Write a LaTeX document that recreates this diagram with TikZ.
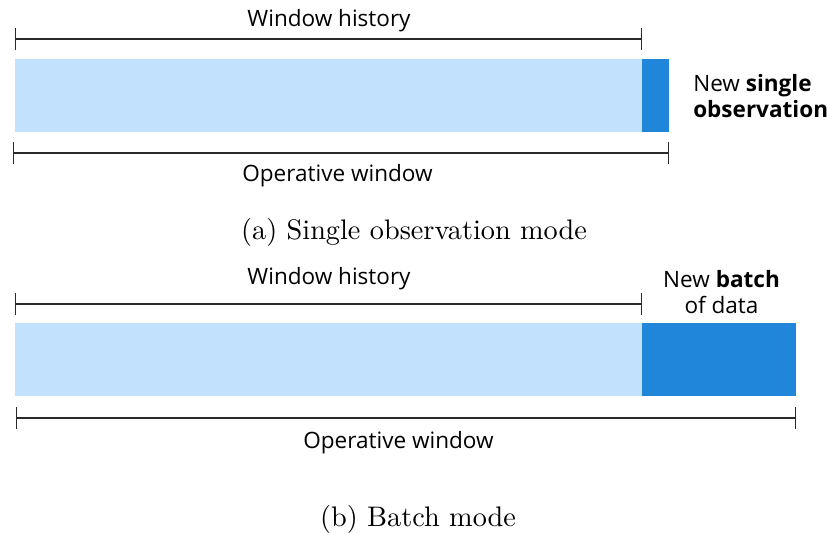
\documentclass[tikz,border=0pt]{standalone}
\usepackage{fontspec}
\newfontfamily\osans{Open Sans}
\newfontfamily\capfont{lmroman10-regular.otf}
\usetikzlibrary{arrows.meta}
\definecolor{lightbar}{HTML}{C2E1FC}
\definecolor{darkbar}{HTML}{1F86DA}
\definecolor{lineclr}{HTML}{2A2A2A}
\begin{document}
\begin{tikzpicture}[x=0.75pt,y=-0.75pt,
  barL/.style={fill=lightbar, draw=none, inner sep=0pt, outer sep=0pt, anchor=north west},
  barD/.style={fill=darkbar, draw=none, inner sep=0pt, outer sep=0pt, anchor=north west},
  bracket/.style={draw=lineclr, line width=0.8pt, {Bar[width=16.5pt,line width=0.8pt]}-{Bar[width=16.5pt,line width=0.8pt]}},
  lbl/.style={inner sep=0pt, anchor=base, font=\osans\fontsize{16.9}{19.5}\selectfont},
  lblw/.style={inner sep=0pt, anchor=base west, font=\osans\fontsize{16.9}{19.5}\selectfont},
  capt/.style={inner sep=0pt, anchor=base, font=\capfont\fontsize{21.2}{25}\selectfont}
]
\useasboundingbox (0,0) rectangle (827,533);

% ---------- (a) single observation mode ----------
\coordinate (whA1) at (15.3,39);
\coordinate (whA2) at (642,39);
\draw[bracket] (whA1) -- (whA2);
\node[lbl] (whAt) at (329,26) {Window history};

\node[barL, minimum width=470pt, minimum height=54.3pt] (histA) at (15.3,59.3) {};
\node[barD, minimum width=20.25pt, minimum height=54.3pt] (newA) at (642,59.3) {};

\coordinate (owA1) at (12.7,153);
\coordinate (owA2) at (669,153);
\draw[bracket] (owA1) -- (owA2);
\node[lbl] (owAt) at (337.5,181) {Operative window};

\node[lblw] (newAt1) at (693,91) {New \textbf{single}};
\node[lblw] (newAt2) at (693,117) {\textbf{observation}};

\node[capt] (capA) at (414,239) {(a) Single observation mode};

% ---------- (b) batch mode ----------
\coordinate (whB1) at (15.3,304);
\coordinate (whB2) at (642,304);
\draw[bracket] (whB1) -- (whB2);
\node[lbl] (whBt) at (329,284) {Window history};

\node[barL, minimum width=470pt, minimum height=54.5pt] (histB) at (15.3,323.3) {};
\node[barD, minimum width=115.5pt, minimum height=54.5pt] (newB) at (642,323.3) {};

\coordinate (owB1) at (16,418);
\coordinate (owB2) at (796,418);
\draw[bracket] (owB1) -- (owB2);
\node[lbl] (owBt) at (398.5,448) {Operative window};

\node[lbl] (newBt1) at (721.5,287) {New \textbf{batch}};
\node[lbl] (newBt2) at (721.5,313) {of data};

\node[capt] (capB) at (418,526) {(b) Batch mode};
\end{tikzpicture}
\end{document}
